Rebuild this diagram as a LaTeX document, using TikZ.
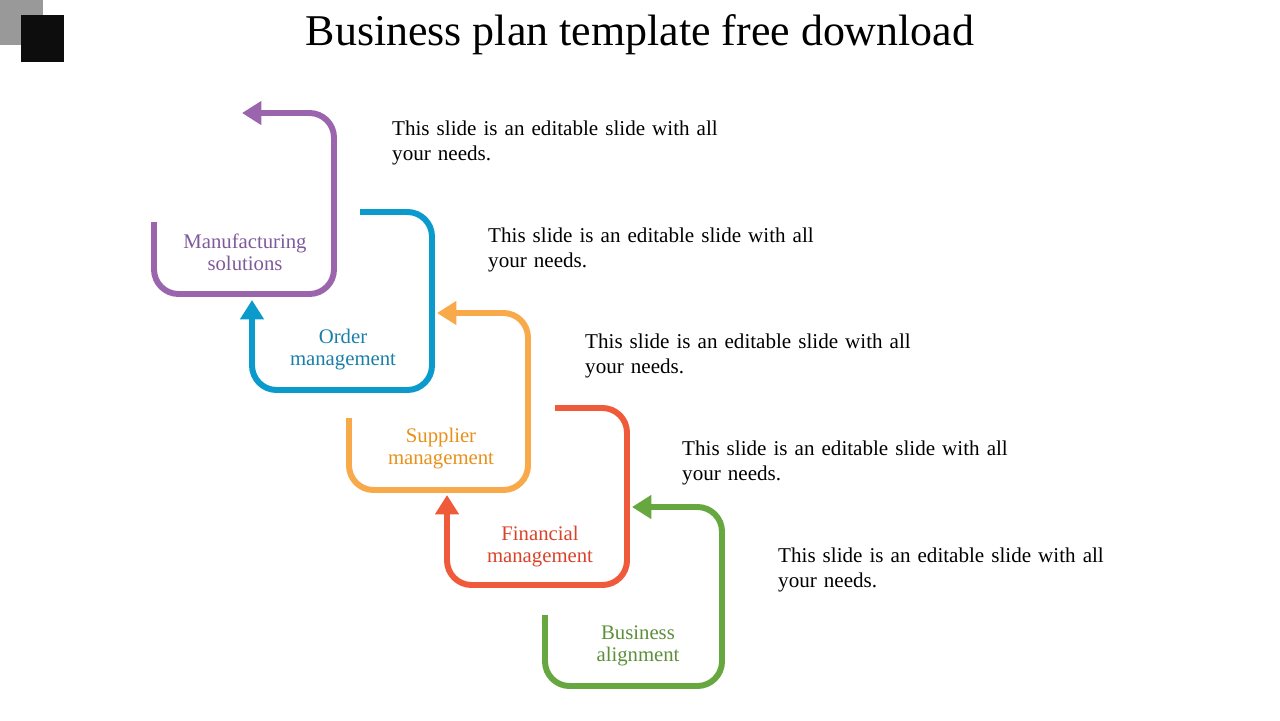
\documentclass[tikz,border=0pt]{standalone}
\usepackage{fontspec}
\setmainfont{Liberation Serif}
\usetikzlibrary{arrows.meta,positioning}
\definecolor{plum}{HTML}{9B65AE}
\definecolor{plumtext}{HTML}{7E5A9B}
\definecolor{cerulean}{HTML}{0A9ACC}
\definecolor{ceruleantext}{HTML}{1A7FA8}
\definecolor{saffron}{HTML}{F8A94A}
\definecolor{saffrontext}{HTML}{E8901A}
\definecolor{vermilion}{HTML}{EF5B3A}
\definecolor{vermiliontext}{HTML}{D9432A}
\definecolor{fern}{HTML}{67A73F}
\definecolor{ferntext}{HTML}{5C8F3A}
\tikzset{
  loop/.style={line width=3.4pt, rounded corners=14pt, -{Triangle[width=13pt,length=11pt]}},
  steplabel/.style={align=center, font=\fontsize{11.8}{12.5}\selectfont},
  note/.style={align=left, anchor=west, font=\fontsize{12}{14.5}\selectfont, text width=7cm}
}
\begin{document}
\begin{tikzpicture}[x=0.02cm, y=-0.02cm]
    \useasboundingbox (0,0) rectangle (1280,720);
    \fill[gray!80] (0,0) rectangle (43,45);
    \fill[black!95] (21,15) rectangle (64,62);
    \node[font=\fontsize{25}{29}\selectfont] (title) at (640,35) {Business plan template free download};

    % anchor points of the loops
    \coordinate (m0) at (154,222); \coordinate (m1) at (242,113);
    \coordinate (o0) at (360,212); \coordinate (o1) at (252,300);
    \coordinate (s0) at (349,418); \coordinate (s1) at (437,313);
    \coordinate (f0) at (555,408); \coordinate (f1) at (447,495);
    \coordinate (b0) at (545,615); \coordinate (b1) at (632,507);

    % Loops
    \draw[loop, plum] (m0) -- (154,294) -- (334,294) -- (334,113) -- (m1);
    \draw[loop, cerulean] (o0) -- (432,212) -- (432,390) -- (252,390) -- (o1);
    \draw[loop, saffron] (s0) -- (349,490) -- (528,490) -- (528,313) -- (s1);
    \draw[loop, vermilion] (f0) -- (627,408) -- (627,585) -- (447,585) -- (f1);
    \draw[loop, fern] (b0) -- (545,686) -- (722,686) -- (722,507) -- (b1);

    % Labels
    \node[steplabel, text=plumtext] (ml) at (245,252) {Manufacturing\\solutions};
    \node[steplabel, text=ceruleantext] (ol) at (343,350) {Order\\management};
    \node[steplabel, text=saffrontext] (sl) at (441,449) {Supplier\\management};
    \node[steplabel, text=vermiliontext] (fl) at (540,547) {Financial\\management};
    \node[steplabel, text=ferntext] (bl) at (638,646) {Business\\alignment};

    % Notes
    \node[note] (n1) at (386,143) {This slide is an editable slide with all\\your needs.};
    \node[note] (n2) at (482,250) {This slide is an editable slide with all\\your needs.};
    \node[note] (n3) at (579,356) {This slide is an editable slide with all\\your needs.};
    \node[note] (n4) at (676,463) {This slide is an editable slide with all\\your needs.};
    \node[note] (n5) at (772,570) {This slide is an editable slide with all\\your needs.};
\end{tikzpicture}
\end{document}
